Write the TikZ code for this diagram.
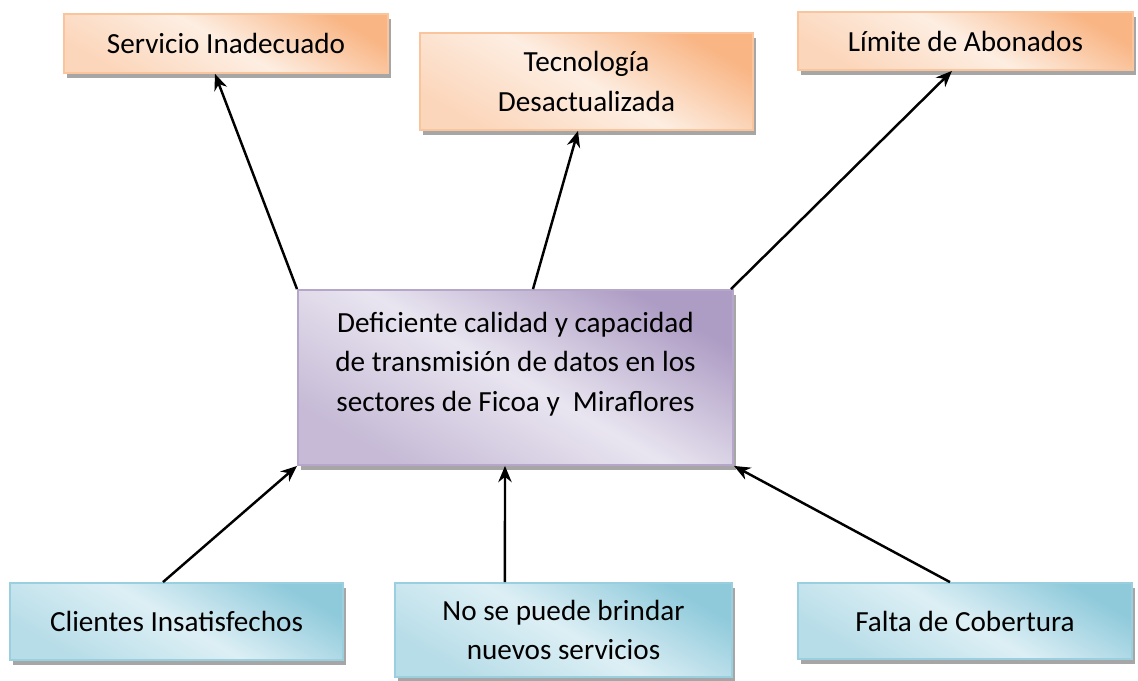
\documentclass[tikz,border=0pt]{standalone}
\usepackage{fontspec}
\setmainfont{Carlito}
\usepackage{tikz}
\usetikzlibrary{arrows.meta,shadows}

\definecolor{efectoDk}{HTML}{F9B584}
\definecolor{efectoLt}{HTML}{FDEEE2}
\definecolor{problemaDk}{HTML}{AD9CC4}
\definecolor{problemaLt}{HTML}{E9E5F0}
\definecolor{causaDk}{HTML}{8FCADB}
\definecolor{causaLt}{HTML}{DDEFF5}

\begin{document}
\begin{tikzpicture}[x=0.01cm, y=-0.01cm,
        caja/.style={rectangle, inner sep=0pt, align=center,
            font=\fontsize{8.3}{11.3}\selectfont, line width=0.5pt,
            drop shadow={shadow xshift=0.9pt, shadow yshift=-1.4pt, fill=black, opacity=0.35}},
        efecto/.style={caja, draw=efectoDk!80, top color=efectoDk, bottom color=efectoDk!55,
            middle color=efectoLt, shading angle=-30},
        problema/.style={caja, draw=problemaDk!90, top color=problemaDk, bottom color=problemaDk!70,
            middle color=problemaLt, shading angle=-30},
        causa/.style={caja, draw=causaDk!90, top color=causaDk, bottom color=causaDk!65,
            middle color=causaLt, shading angle=-30},
        flecha/.style={-{Stealth[length=4.6pt, width=3.8pt]}, line width=0.7pt}]
        \useasboundingbox (0,0) rectangle (1138,681);

        % efectos
        \node[efecto, minimum width=3.24cm, minimum height=0.59cm] (serv) at (226,43.5) {Servicio Inadecuado};
        \node[efecto, minimum width=3.33cm, minimum height=0.97cm] (tec) at (586.5,81.5) {Tecnología\\Desactualizada};
        \node[efecto, minimum width=3.35cm, minimum height=0.58cm] (lim) at (965.5,41) {Límite de Abonados};

        % problema central
        \node[problema, minimum width=4.35cm, minimum height=1.75cm, text depth=9pt] (prob) at (515.5,377.5)
            {Deficiente calidad y capacidad\\de transmisión de datos en los\\sectores de Ficoa y \ Miraflores};

        % causas
        \node[causa, minimum width=3.33cm, minimum height=0.77cm] (cli) at (176.5,621.5) {Clientes Insatisfechos};
        \node[causa, minimum width=3.37cm, minimum height=0.94cm] (nose) at (563.5,630) {No se puede brindar\\nuevos servicios};
        \node[causa, minimum width=3.34cm, minimum height=0.76cm] (falta) at (965,621) {Falta de Cobertura};

        \draw (prob.north west) edge[flecha] ([xshift=-0.11cm]serv.south)
              ([xshift=0.175cm]prob.north) edge[flecha] ([xshift=-0.085cm]tec.south)
              ([xshift=-0.03cm]prob.north east) edge[flecha] ([xshift=-0.135cm]lim.south)
              ([xshift=-0.135cm]cli.north) edge[flecha] (prob.south west)
              ([xshift=-0.585cm]nose.north) edge[flecha] ([xshift=-0.105cm]prob.south)
              ([xshift=-0.15cm]falta.north) edge[flecha] (prob.south east);
    \end{tikzpicture}
\end{document}
